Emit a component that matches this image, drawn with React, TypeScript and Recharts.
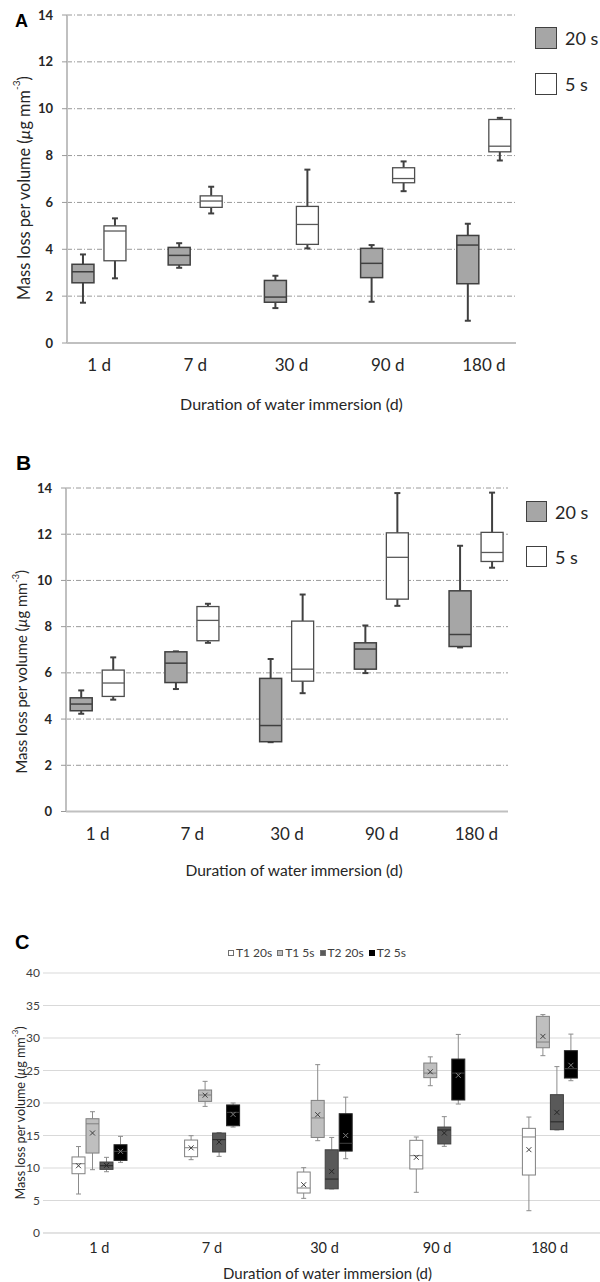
import React from 'react';
import { ComposedChart, Bar, XAxis, YAxis, CartesianGrid, Legend, Label } from 'recharts';

const FONT = 'Lato, "Open Sans", sans-serif';
const LETTER_FONT = '"Liberation Sans", Arial, sans-serif';
const INK = '#262626';

// Immersion times shared by the three panels
const durations = ['1 d', '7 d', '30 d', '90 d', '180 d'];
const ticksAB = [0, 2, 4, 6, 8, 10, 12, 14];
const ticksC = [0, 5, 10, 15, 20, 25, 30, 35, 40];

// Panel A, five-number summaries [min, Q1, median, Q3, max]
const a20s = [
  [1.72, 2.57, 3.04, 3.36, 3.78],
  [3.21, 3.33, 3.74, 4.08, 4.26],
  [1.49, 1.74, 1.96, 2.67, 2.87],
  [1.76, 2.79, 3.4, 4.04, 4.18],
  [0.95, 2.53, 4.18, 4.59, 5.09],
];
const a5s = [
  [2.76, 3.51, 4.78, 5.0, 5.32],
  [5.53, 5.79, 6.06, 6.28, 6.67],
  [4.04, 4.21, 5.06, 5.83, 7.4],
  [6.48, 6.84, 7.02, 7.48, 7.75],
  [7.79, 8.16, 8.4, 9.54, 9.61],
];

// Panel B, [min, Q1, median, Q3, max]
const b20s = [
  [4.23, 4.36, 4.65, 4.92, 5.24],
  [5.3, 5.58, 6.42, 6.91, 6.93],
  [3.0, 3.02, 3.72, 5.76, 6.6],
  [5.99, 6.16, 7.03, 7.3, 8.05],
  [7.1, 7.14, 7.66, 9.55, 11.5],
];
const b5s = [
  [4.84, 4.98, 5.56, 6.12, 6.67],
  [7.3, 7.39, 8.27, 8.87, 8.99],
  [5.12, 5.64, 6.16, 8.24, 9.39],
  [8.9, 9.19, 11.0, 12.06, 13.78],
  [10.55, 10.82, 11.21, 12.08, 13.8],
];

// Panel C, [min, Q1, median, Q3, max, mean]
const cT1s20 = [
  [6.0, 9.12, 10.66, 11.7, 13.3, 10.35],
  [11.28, 11.74, 13.12, 14.3, 14.97, 13.1],
  [5.33, 6.15, 6.92, 9.38, 10.05, 7.43],
  [6.26, 9.85, 11.9, 14.26, 14.77, 11.64],
  [3.43, 8.92, 14.77, 16.1, 17.84, 12.82],
];
const cT1s5 = [
  [9.74, 12.3, 16.8, 17.58, 18.66, 15.38],
  [19.48, 20.25, 21.23, 22.0, 23.33, 21.2],
  [14.2, 14.7, 17.7, 20.4, 25.9, 18.2],
  [22.66, 23.9, 24.6, 26.15, 27.1, 24.8],
  [27.28, 28.5, 29.38, 33.33, 33.6, 30.25],
];
const cT2s20 = [
  [9.43, 9.79, 10.35, 10.92, 11.64, 10.4],
  [11.79, 12.46, 14.36, 15.38, 15.45, 14.0],
  [6.77, 6.8, 8.3, 12.8, 14.7, 9.48],
  [13.33, 13.7, 15.85, 16.3, 17.9, 15.38],
  [15.85, 15.9, 17.1, 21.28, 25.6, 18.56],
];
const cT2s5 = [
  [10.87, 11.17, 12.56, 13.58, 14.87, 12.56],
  [16.3, 16.5, 18.56, 19.7, 20.0, 18.25],
  [11.43, 12.6, 13.8, 18.35, 20.9, 15.0],
  [19.84, 20.46, 24.6, 26.76, 30.55, 24.25],
  [23.43, 23.84, 25.28, 28.05, 30.6, 25.8],
];

type Look = {
  fill: string;
  stroke: string;
  strokeWidth: number;
  median: string;
  medianWidth: number;
  whisker: string;
  whiskerWidth: number;
  cap: number;
  mean?: string;
};

const lookGray: Look = { fill: '#a6a6a6', stroke: '#404040', strokeWidth: 1.5, median: '#404040', medianWidth: 1.5, whisker: '#404040', whiskerWidth: 2, cap: 3 };
const lookWhite: Look = { fill: '#ffffff', stroke: '#4d4d4d', strokeWidth: 1.3, median: '#595959', medianWidth: 1.3, whisker: '#404040', whiskerWidth: 2, cap: 3 };

const lookT1s20: Look = { fill: '#ffffff', stroke: '#808080', strokeWidth: 1, median: '#808080', medianWidth: 1, whisker: '#8c8c8c', whiskerWidth: 1, cap: 2.5, mean: '#404040' };
const lookT1s5: Look = { fill: '#bfbfbf', stroke: '#7f7f7f', strokeWidth: 1, median: '#7f7f7f', medianWidth: 1, whisker: '#8c8c8c', whiskerWidth: 1, cap: 2.5, mean: '#404040' };
const lookT2s20: Look = { fill: '#595959', stroke: '#404040', strokeWidth: 1, median: '#262626', medianWidth: 1, whisker: '#8c8c8c', whiskerWidth: 1, cap: 2.5, mean: '#262626' };
const lookT2s5: Look = { fill: '#000000', stroke: '#262626', strokeWidth: 1, median: '#404040', medianWidth: 1, whisker: '#8c8c8c', whiskerWidth: 1, cap: 2.5, mean: '#808080' };

// The bar spans min..max through the y scale; inner quartiles are placed on that same linear span.
function makeBox(key: string, look: Look) {
  return function BoxShape(props: any) {
    const { x, y, width, height, payload } = props;
    const s: number[] | undefined = payload?.[key];
    if (!s || x == null || y == null) return <g />;
    const [lo, q1, med, q3, hi, mean] = s;
    const top = Math.min(y, y + height);
    const bottom = Math.max(y, y + height);
    const toY = (v: number) => bottom - ((v - lo) / (hi - lo)) * (bottom - top);
    const cx = x + width / 2;
    const yLo = toY(lo);
    const yHi = toY(hi);
    const yQ1 = toY(q1);
    const yQ3 = toY(q3);
    const yMed = toY(med);
    const c = look.cap;
    return (
      <g>
        <line x1={cx} x2={cx} y1={yHi} y2={yQ3} stroke={look.whisker} strokeWidth={look.whiskerWidth} />
        <line x1={cx} x2={cx} y1={yLo} y2={yQ1} stroke={look.whisker} strokeWidth={look.whiskerWidth} />
        <line x1={cx - c} x2={cx + c} y1={yHi} y2={yHi} stroke={look.whisker} strokeWidth={look.whiskerWidth} />
        <line x1={cx - c} x2={cx + c} y1={yLo} y2={yLo} stroke={look.whisker} strokeWidth={look.whiskerWidth} />
        <rect x={x} y={yQ3} width={width} height={Math.max(0.5, yQ1 - yQ3)} fill={look.fill} stroke={look.stroke} strokeWidth={look.strokeWidth} />
        <line x1={x} x2={x + width} y1={yMed} y2={yMed} stroke={look.median} strokeWidth={look.medianWidth} />
        {mean != null && look.mean ? (
          <path
            d={`M${cx - 2.5},${toY(mean) - 2.5}L${cx + 2.5},${toY(mean) + 2.5}M${cx - 2.5},${toY(mean) + 2.5}L${cx + 2.5},${toY(mean) - 2.5}`}
            stroke={look.mean}
            strokeWidth={1}
            fill="none"
          />
        ) : null}
      </g>
    );
  };
}

const span = (key: string) => (row: any) => [row[key][0], row[key][4]];

const rowsA = durations.map((d, i) => ({ x: i, label: d, s20: a20s[i], s5: a5s[i] }));
const rowsB = durations.map((d, i) => ({ x: i, label: d, s20: b20s[i], s5: b5s[i] }));
const rowsC = durations.map((d, i) => ({ label: d, t1s20: cT1s20[i], t1s5: cT1s5[i], t2s20: cT2s20[i], t2s5: cT2s5[i] }));

const seriesAB = [
  { key: 's20', name: '20 s', look: lookGray },
  { key: 's5', name: '5 s', look: lookWhite },
];
const seriesC = [
  { key: 't1s20', name: 'T1 20s', look: lookT1s20 },
  { key: 't1s5', name: 'T1 5s', look: lookT1s5 },
  { key: 't2s20', name: 'T2 20s', look: lookT2s20 },
  { key: 't2s5', name: 'T2 5s', look: lookT2s5 },
];

function yTitle(size: number, dx: number, dy: number) {
  return function YTitle(props: any) {
    const vb = props.viewBox || { x: 0, y: 0, width: 0, height: 0 };
    const x = vb.x + dx;
    const y = vb.y + vb.height / 2 + dy;
    return (
      <text
        x={x}
        y={y}
        transform={`rotate(-90 ${x} ${y})`}
        textAnchor="middle"
        dominantBaseline="central"
        fontFamily={FONT}
        fontSize={size}
        fill={INK}
      >
        Mass loss per volume (<tspan fontStyle="italic">µ</tspan>g mm
        <tspan dy={-size * 0.4} fontSize={size * 0.62}>-3</tspan>
        <tspan dy={size * 0.4}>)</tspan>
      </text>
    );
  };
}

function xTitle(size: number, dx: number, dy: number) {
  return function XTitle(props: any) {
    const vb = props.viewBox || { x: 0, y: 0, width: 0, height: 0 };
    return (
      <text
        x={vb.x + vb.width / 2 + dx}
        y={vb.y + dy}
        textAnchor="middle"
        dominantBaseline="central"
        fontFamily={FONT}
        fontSize={size}
        fill={INK}
      >
        Duration of water immersion (d)
      </text>
    );
  };
}

function boxLegend(size: number, box: number, rowGap: number, textGap: number) {
  return function BoxLegend() {
    return (
      <div style={{ fontFamily: FONT, fontSize: size, color: INK }}>
        {seriesAB.map((s, i) => (
          <div key={s.key} style={{ display: 'flex', alignItems: 'center', height: box, marginTop: i === 0 ? 0 : rowGap }}>
            <span
              style={{
                display: 'inline-block',
                width: box,
                height: box,
                boxSizing: 'border-box',
                background: s.look.fill,
                border: '1.5px solid #404040',
                marginRight: textGap,
              }}
            />
            <span style={{ lineHeight: 1 }}>{s.name}</span>
          </div>
        ))}
      </div>
    );
  };
}

function LegendC() {
  return (
    <div style={{ display: 'flex', alignItems: 'center', fontFamily: FONT, fontSize: 12, color: '#404040', whiteSpace: 'nowrap' }}>
      {seriesC.map((s, i) => (
        <span key={s.key} style={{ display: 'inline-flex', alignItems: 'center', marginLeft: i === 0 ? 0 : 5 }}>
          <span
            style={{
              display: 'inline-block',
              width: 6,
              height: 6,
              boxSizing: 'border-box',
              background: s.look.fill,
              border: `1px solid ${s.look.stroke === '#262626' ? '#000' : '#707070'}`,
              marginRight: 2,
            }}
          />
          {s.name}
        </span>
      ))}
    </div>
  );
}

const letterStyle = (left: number, top: number, size: number): React.CSSProperties => ({
  position: 'absolute',
  left,
  top,
  fontFamily: LETTER_FONT,
  fontWeight: 700,
  fontSize: size,
  lineHeight: 1,
  color: '#000',
});

const boldTick = { fontFamily: FONT, fontSize: 13, fontWeight: 700, fill: INK };
const catTick = { fontFamily: FONT, fontSize: 17, fill: INK };

function PanelAB(props: {
  rows: any[];
  width: number;
  height: number;
  margin: any;
  yWidth: number;
  xHeight: number;
  legendLeft: number;
  legendTop: number;
  legendGap: number;
  legendBox: number;
  yTitleSize: number;
  yTitleDx: number;
  yTitleDy: number;
  xTitleSize: number;
  xTitleDx: number;
  xTitleDy: number;
}) {
  const p = props;
  return (
    <ComposedChart width={p.width} height={p.height} data={p.rows} margin={p.margin} barSize={22} barGap={10}>
      <CartesianGrid vertical={false} stroke="#9a9a9a" strokeDasharray="5 2 1 2" />
      <XAxis
        type="number"
        dataKey="x"
        domain={[-1 / 3, 13 / 3]}
        ticks={[0, 1, 2, 3, 4]}
        tickFormatter={(v: number) => durations[v] ?? ''}
        interval={0}
        height={p.xHeight}
        axisLine={{ stroke: '#c0c0c0', strokeWidth: 2 }}
        tickLine={false}
        tickSize={0}
        tickMargin={16}
        tick={catTick}
      >
        <Label content={xTitle(p.xTitleSize, p.xTitleDx, p.xTitleDy)} />
      </XAxis>
      <YAxis
        domain={[0, 14]}
        ticks={ticksAB}
        interval={0}
        width={p.yWidth}
        axisLine={{ stroke: '#c0c0c0', strokeWidth: 2 }}
        tickLine={{ stroke: '#9a9a9a' }}
        tickSize={5}
        tickMargin={9}
        tick={boldTick}
      >
        <Label content={yTitle(p.yTitleSize, p.yTitleDx, p.yTitleDy)} />
      </YAxis>
      <Legend
        layout="vertical"
        align="center"
        verticalAlign="middle"
        content={boxLegend(18, p.legendBox, p.legendGap, 8)}
        wrapperStyle={{ left: p.legendLeft, top: p.legendTop, width: 'auto', height: 'auto' }}
      />
      {seriesAB.map((s) => (
        <Bar
          key={s.key}
          name={s.name}
          dataKey={span(s.key)}
          fill={s.look.fill}
          shape={makeBox(s.key, s.look)}
          isAnimationActive={false}
        />
      ))}
    </ComposedChart>
  );
}

export default function App() {
  return (
    <div style={{ position: 'absolute', left: 0, top: 0, width: 600, height: 1282, overflow: 'hidden', background: '#fff' }}>
      <div style={{ position: 'absolute', left: 0, top: 0 }}>
        <PanelAB
          rows={rowsA}
          width={600}
          height={420}
          margin={{ top: 15, right: 84, bottom: 0, left: 0 }}
          yWidth={67}
          xHeight={77}
          legendLeft={535}
          legendTop={27}
          legendGap={24}
          legendBox={22}
          yTitleSize={16.3}
          yTitleDx={23}
          yTitleDy={9}
          xTitleSize={16}
          xTitleDx={0}
          xTitleDy={60}
        />
      </div>
      <div style={{ position: 'absolute', left: 0, top: 440 }}>
        <PanelAB
          rows={rowsB}
          width={600}
          height={445}
          margin={{ top: 48, right: 92, bottom: 0, left: 0 }}
          yWidth={66}
          xHeight={73.5}
          legendLeft={526}
          legendTop={61}
          legendGap={24}
          legendBox={21}
          yTitleSize={14.8}
          yTitleDx={21}
          yTitleDy={22}
          xTitleSize={15.6}
          xTitleDx={7}
          xTitleDy={58}
        />
      </div>
      <div style={{ position: 'absolute', left: 0, top: 925 }}>
        <ComposedChart width={610} height={357} data={rowsC} margin={{ top: 48, right: 4, bottom: 0, left: 0 }} barSize={13} barGap={1}>
          <CartesianGrid vertical={false} stroke="#d9d9d9" />
          <XAxis
            dataKey="label"
            height={49}
            axisLine={{ stroke: '#d9d9d9' }}
            tickLine={false}
            tickSize={0}
            tickMargin={10}
            tick={{ fontFamily: FONT, fontSize: 14.5, fill: INK }}
          >
            <Label content={xTitle(15, 3, 40)} />
          </XAxis>
          <YAxis
            domain={[0, 40]}
            ticks={ticksC}
            interval={0}
            width={43}
            axisLine={false}
            tickLine={false}
            tickSize={0}
            tickMargin={3}
            tick={{ fontFamily: FONT, fontSize: 12, fill: '#404040' }}
          >
            <Label content={yTitle(12.6, 20, 10)} />
          </YAxis>
          <Legend
            layout="vertical"
            align="center"
            verticalAlign="middle"
            content={LegendC}
            wrapperStyle={{ left: 228, top: 20, width: 'auto', height: 'auto' }}
          />
          {seriesC.map((s) => (
            <Bar
              key={s.key}
              name={s.name}
              dataKey={span(s.key)}
              fill={s.look.fill}
              shape={makeBox(s.key, s.look)}
              isAnimationActive={false}
            />
          ))}
        </ComposedChart>
      </div>
      <div style={letterStyle(15, 12, 18)}>A</div>
      <div style={letterStyle(16, 452, 21)}>B</div>
      <div style={letterStyle(15, 932, 20)}>C</div>
    </div>
  );
}
